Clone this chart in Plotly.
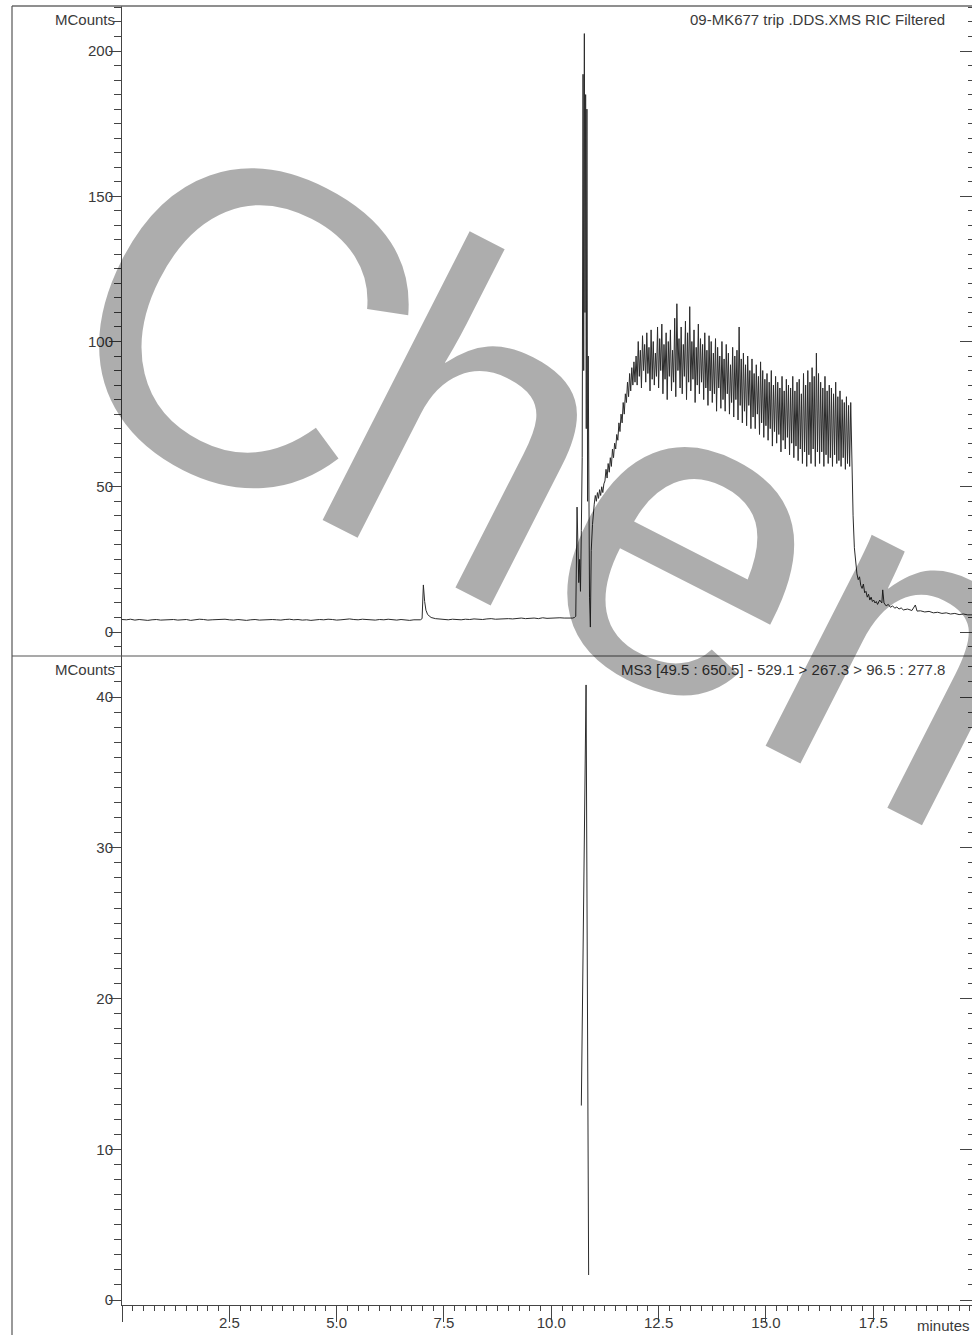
import numpy as np
import plotly.graph_objects as go

# ---------------- data ----------------
# RIC trace, baseline 0.0 - 6.9 min (0.1 min sampling)
base_a_t = [round(0.1 * i, 2) for i in range(70)]
base_a_v = [4.3, 4.2, 4.4, 4.1, 4.3, 4.2, 4.0, 4.2, 4.3, 4.1,
            4.2, 4.4, 4.3, 4.1, 4.2, 4.3, 4.0, 4.2, 4.4, 4.3,
            4.1, 4.2, 4.3, 4.2, 4.4, 4.2, 4.1, 4.3, 4.2, 4.0,
            4.2, 4.3, 4.1, 4.2, 4.4, 4.3, 4.2, 4.1, 4.3, 4.4,
            4.2, 4.3, 4.1, 4.2, 4.0, 4.2, 4.3, 4.2, 4.4, 4.3,
            4.1, 4.2, 4.3, 4.5, 4.3, 4.2, 4.4, 4.3, 4.2, 4.1,
            4.3, 4.2, 4.4, 4.2, 4.1, 4.3, 4.2, 4.0, 4.2, 4.1]
# small peak near 7 min
peak7_t = [6.95, 6.99, 7.02, 7.05, 7.08, 7.12, 7.16, 7.20, 7.30, 7.40]
peak7_v = [4.2, 4.6, 16.2, 10.5, 7.5, 6.0, 5.4, 5.0, 4.6, 4.4]
# baseline 7.5 - 10.5 min
base_b_t = [round(7.5 + 0.1 * i, 2) for i in range(31)]
base_b_v = [4.3, 4.2, 4.4, 4.3, 4.2, 4.4, 4.3, 4.5, 4.4, 4.3,
            4.5, 4.6, 4.4, 4.5, 4.7, 4.6, 4.5, 4.7, 4.8, 4.6,
            4.7, 4.8, 4.6, 4.9, 4.7, 4.8, 4.7, 4.9, 4.8, 4.7, 4.8]
# main spike cluster
spike_t = [10.54, 10.57, 10.60, 10.62, 10.64, 10.66, 10.68, 10.70, 10.72, 10.74,
           10.755, 10.77, 10.785, 10.80, 10.815, 10.83, 10.845, 10.86, 10.875,
           10.89, 10.91, 10.93, 10.96, 10.98]
spike_v = [5.0, 5.4, 43, 30, 17, 25, 14, 35, 60, 192,
           90, 206, 110, 185, 70, 180, 45, 95, 30,
           12, 1.7, 28, 37, 42]
# broad noisy hump 11.000 - 17.000 min (0.025 min sampling)
hump_t = [round(11.0 + 0.025 * i, 3) for i in range(241)]
hump_v = [44, 47, 45, 48, 46, 49, 47, 50, 48, 51,
          52, 56, 53, 58, 55, 60, 57, 63, 60, 65,
          63, 68, 66, 72, 69, 75, 72, 79, 75, 82,
          79, 86, 81, 89, 83, 91, 85, 93, 86, 95,
          85, 100, 88, 97, 84, 102, 90, 99, 86, 103,
          89, 98, 83, 104, 87, 100, 85, 96, 88, 105,
          84, 101, 90, 106, 82, 99, 87, 103, 80, 100,
          88, 104, 83, 97, 86, 108, 81, 113, 90, 101,
          84, 105, 82, 99, 88, 107, 80, 103, 86, 112,
          83, 100, 87, 104, 79, 98, 85, 106, 82, 101,
          86, 99, 80, 103, 84, 97, 78, 102, 83, 100,
          79, 96, 82, 101, 76, 98, 84, 95, 77, 100,
          80, 94, 76, 99, 82, 96, 75, 92, 79, 98,
          74, 95, 80, 97, 73, 105, 78, 94, 72, 96,
          76, 92, 71, 95, 78, 90, 70, 94, 74, 89,
          70, 92, 75, 88, 68, 93, 72, 90, 67, 87,
          71, 89, 66, 86, 70, 90, 64, 85, 69, 88,
          65, 86, 68, 84, 62, 88, 66, 83, 63, 87,
          67, 85, 61, 84, 65, 88, 60, 83, 64, 86,
          59, 87, 63, 82, 58, 89, 62, 85, 57, 90,
          61, 86, 58, 91, 63, 88, 57, 96, 62, 89,
          58, 86, 62, 84, 57, 88, 61, 83, 58, 85,
          60, 84, 57, 82, 61, 86, 58, 81, 59, 83,
          57, 80, 60, 79, 56, 81, 58, 78, 57, 79,
          55]
# decay tail
tail_t = [17.03, 17.06, 17.09, 17.12, 17.15, 17.18, 17.21, 17.24, 17.27, 17.30,
          17.33, 17.36, 17.39, 17.42, 17.45, 17.48, 17.51, 17.54, 17.57, 17.60,
          17.65, 17.70, 17.72, 17.75, 17.80, 17.85, 17.90, 17.95, 18.00, 18.05,
          18.10, 18.15, 18.20, 18.30, 18.40, 18.48, 18.52, 18.60, 18.70, 18.80,
          18.90, 19.00, 19.10, 19.20, 19.30, 19.40, 19.50, 19.60, 19.70, 19.82]
tail_v = [40, 29, 24, 20, 18, 19, 16, 15, 16.5, 13.5,
          14, 12, 13, 11, 12, 10.5, 11, 10, 10.5, 9.5,
          11, 10, 14.5, 10, 9, 9.5, 8.5, 9, 8.2, 8.6,
          7.9, 8.3, 7.6, 7.9, 7.4, 9.3, 7.2, 7.3, 6.9, 7.1,
          6.6, 6.8, 6.4, 6.6, 6.2, 6.4, 6.0, 6.2, 5.9, 5.9]

ric_t = base_a_t + peak7_t + base_b_t + spike_t + hump_t + tail_t
ric_v = base_a_v + peak7_v + base_b_v + spike_v + hump_v + tail_v

# MS3 trace
ms3_t = [10.70, 10.81, 10.87]
ms3_v = [12.9, 40.8, 1.66]

x_tickvals = [0, 2.5, 5.0, 7.5, 10.0, 12.5, 15.0, 17.5]
x_ticktext = ["", "2.5", "5.0", "7.5", "10.0", "12.5", "15.0", "17.5"]
top_ticks = [0, 50, 100, 150, 200]
bot_ticks = [0, 10, 20, 30, 40]

title_top = "09-MK677 trip .DDS.XMS RIC Filtered"
title_bot = "MS3 [49.5 : 650.5] - 529.1 > 267.3 > 96.5 : 277.8"

# ---------------- layout geometry ----------------
W, H = 972, 1335
ML, MR, MT, MB = 122, 0, 6, 30


def px(xp):
    return (xp - ML) / (W - ML - MR)


def py(yp):
    return (H - MB - yp) / (H - MT - MB)


split = py(656)
FONT = "Liberation Sans, Arial, sans-serif"
TXT = "#3a3a3a"
AX = "#444444"
LINE = "#2b2b2b"

fig = go.Figure()
fig.add_trace(go.Scatter(x=ric_t, y=ric_v, mode="lines", xaxis="x", yaxis="y",
                         line=dict(color=LINE, width=1), showlegend=False))
fig.add_trace(go.Scatter(x=ms3_t, y=ms3_v, mode="lines", xaxis="x2", yaxis="y2",
                         line=dict(color=LINE, width=1), showlegend=False))
# helpers for mirrored inside ticks on the right
fig.add_trace(go.Scatter(x=[None], y=[None], xaxis="x", yaxis="y3", showlegend=False,
                         hoverinfo="skip"))
fig.add_trace(go.Scatter(x=[None], y=[None], xaxis="x2", yaxis="y4", showlegend=False,
                         hoverinfo="skip"))

xr = [0, 19.8]
yr_top = [-8.26, 215.5]
yr_bot = [-0.33, 42.72]

yax_common = dict(showgrid=False, zeroline=False, showline=True, linecolor=AX, linewidth=1,
                  ticks="outside", ticklen=12, tickcolor=AX, tickwidth=1,
                  tickfont=dict(family=FONT, size=15, color=TXT),
                  ticklabelstandoff=-7)

fig.update_layout(
    width=W, height=H,
    margin=dict(l=ML, r=MR, t=MT, b=MB),
    paper_bgcolor="white", plot_bgcolor="white",
    xaxis=dict(domain=[0, 1], anchor="y", range=xr, showticklabels=False, ticks="",
               showline=False, showgrid=False, zeroline=False),
    yaxis=dict(domain=[split, 1], anchor="x", range=yr_top, tickvals=top_ticks,
               minor=dict(dtick=5, tick0=0, ticks="outside", ticklen=7, tickcolor=AX),
               **yax_common),
    yaxis3=dict(overlaying="y", anchor="x", side="right", range=yr_top, tickvals=top_ticks,
                ticks="inside", ticklen=12, tickcolor=AX, showticklabels=False,
                showline=False, showgrid=False, zeroline=False,
                minor=dict(dtick=5, tick0=0, ticks="inside", ticklen=4, tickcolor=AX)),
    xaxis2=dict(domain=[0, 1], anchor="y2", range=xr, tickvals=x_tickvals, ticktext=x_ticktext,
                showline=True, linecolor=AX, linewidth=1, showgrid=False, zeroline=False,
                ticks="outside", ticklen=16, tickcolor=AX, tickwidth=1,
                tickfont=dict(family=FONT, size=15, color=TXT), ticklabelstandoff=-12,
                minor=dict(dtick=0.25, tick0=0, ticks="outside", ticklen=5, tickcolor=AX)),
    yaxis2=dict(domain=[0, split], anchor="x2", range=yr_bot, tickvals=bot_ticks,
                minor=dict(dtick=1, tick0=0, ticks="outside", ticklen=7, tickcolor=AX),
                **yax_common),
    yaxis4=dict(overlaying="y2", anchor="x2", side="right", range=yr_bot, tickvals=bot_ticks,
                ticks="inside", ticklen=12, tickcolor=AX, showticklabels=False,
                showline=False, showgrid=False, zeroline=False,
                minor=dict(dtick=1, tick0=0, ticks="inside", ticklen=4, tickcolor=AX)),
)

# frame lines
shapes = [
    dict(type="line", xref="paper", yref="paper", x0=px(12), x1=px(W), y0=py(6), y1=py(6),
         line=dict(color="#6a6a6a", width=1.5)),
    dict(type="line", xref="paper", yref="paper", x0=px(12), x1=px(12), y0=py(6), y1=py(H),
         line=dict(color="#555555", width=1.2)),
    dict(type="line", xref="paper", yref="paper", x0=px(12), x1=px(W), y0=split, y1=split,
         line=dict(color="#555555", width=1.2)),
]
fig.update_layout(shapes=shapes)

ann = []


def label(text, xp, yp, xanchor="right"):
    ann.append(dict(text=text, x=px(xp), y=py(yp), xref="paper", yref="paper",
                    showarrow=False, xanchor=xanchor, yanchor="middle",
                    font=dict(family=FONT, size=15, color=TXT)))


label("MCounts", 117, 19)
label("MCounts", 117, 669)
label(title_top, 947, 19)
label(title_bot, 947, 669)
label("minutes", 943, 1325, xanchor="center")

# watermark ("C" and "hem" placed separately)
WM = dict(family=FONT, size=447, color="rgba(0,0,0,0.32)")
ann.append(dict(text="C", x=px(245), y=py(323), xref="paper", yref="paper",
                showarrow=False, xanchor="center", yanchor="middle", textangle=27, font=WM))
ann.append(dict(text="hem", x=px(752.5), y=py(565), xref="paper", yref="paper",
                showarrow=False, xanchor="center", yanchor="middle", textangle=27, font=WM))
fig.update_layout(annotations=ann)

fig.write_html("out.html",
               config={"displayModeBar": False},
               post_script="document.body.style.margin='0';document.body.style.padding='0';"
                           "document.body.style.overflow='hidden';")
